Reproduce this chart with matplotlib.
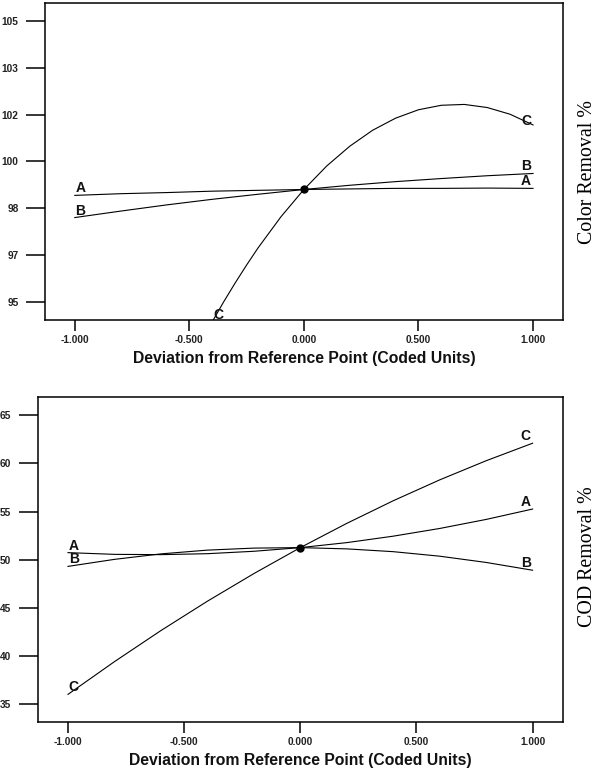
# -*- coding: utf-8 -*-
"""
Perturbation plots for the colour / COD removal models.
Deviation from the reference point (coded units) for factors A, B, C.
"""

import numpy as np
from matplotlib import pyplot as plt


# ---- data ----
# top panel: colour removal %
x_top = [-1.0, -0.8, -0.6, -0.4, -0.2, 0.0, 0.2, 0.4, 0.6, 0.8, 1.0]
color_A = [98.79, 98.85, 98.89, 98.94, 98.97, 99.00, 99.02, 99.04, 99.04, 99.05, 99.04]
color_B = [98.00, 98.23, 98.45, 98.65, 98.83, 99.00, 99.15, 99.28, 99.39, 99.49, 99.57]

x_top_C = [-0.40, -0.35, -0.30, -0.25, -0.20, -0.10, 0.00, 0.10, 0.20, 0.30,
           0.40, 0.50, 0.60, 0.70, 0.80, 0.90, 1.00]
color_C = [94.29, 95.00, 95.67, 96.31, 96.92, 98.03, 99.00, 99.84, 100.54, 101.11,
           101.54, 101.84, 102.00, 102.03, 101.92, 101.68, 101.30]

# bottom panel: COD removal %
x_bot = [-1.0, -0.8, -0.6, -0.4, -0.2, 0.0, 0.2, 0.4, 0.6, 0.8, 1.0]
cod_A = [50.73, 50.55, 50.52, 50.62, 50.87, 51.25, 51.77, 52.44, 53.24, 54.18, 55.26]
cod_B = [49.30, 50.03, 50.60, 50.99, 51.20, 51.25, 51.12, 50.83, 50.36, 49.71, 48.90]
cod_C = [36.00, 39.40, 42.63, 45.68, 48.55, 51.25, 53.77, 56.12, 58.29, 60.28, 62.10]

ref_color = 99.0
ref_cod = 51.25

x_ticks = [-1.0, -0.5, 0.0, 0.5, 1.0]
x_ticklabels = ['-1.000', '-0.500', '0.000', '0.500', '1.000']

# the colour axis has 7 even ticks between 95 and 105 (labels rounded)
top_yticks = np.linspace(95, 105, 7)
top_yticklabels = ['95', '97', '98', '100', '102', '103', '105']
bot_yticks = [35, 40, 45, 50, 55, 60, 65]
bot_yticklabels = ['35', '40', '45', '50', '55', '60', '65']

SANS = 'Liberation Sans'
SERIF = 'Liberation Serif'


def put_label(ax, x, y, txt, dx=0.0):
    # letter sitting right on the end of a curve
    ax.text(x + dx, y, txt, ha='center', va='bottom', fontsize=10,
            family=SANS, fontweight='bold', color='#111111', zorder=5)


def style_axes(ax, yticks, yticklabels, ylim):
    ax.set_xlim(-1.13, 1.13)
    ax.set_ylim(*ylim)
    ax.set_xticks(x_ticks)
    ax.set_xticklabels(x_ticklabels)
    ax.set_yticks(yticks)
    ax.set_yticklabels(yticklabels)
    for lab in ax.get_xticklabels() + ax.get_yticklabels():
        lab.set_family(SANS)
        lab.set_fontweight('bold')
        lab.set_fontsize(7.3)
        lab.set_color('#222222')
    ax.tick_params(axis='y', direction='out', length=14, width=1.1, pad=5)
    ax.tick_params(axis='x', direction='out', length=8, width=1.1, pad=3)
    for sp in ax.spines.values():
        sp.set_linewidth(1.1)
    ax.set_xlabel('Deviation from Reference Point (Coded Units)', family=SANS,
                  fontsize=11.3, fontweight='bold', labelpad=4, color='#111111')


fig = plt.figure(figsize=(6.0, 7.73), dpi=100)

# ---- top panel ----
ax1 = fig.add_axes([0.075, 0.586, 0.863, 0.410])
kw = dict(color='black', lw=0.8)
ax1.plot(x_top, color_A, **kw)
ax1.plot(x_top, color_B, **kw)
ax1.plot(x_top_C, color_C, **kw)
ax1.plot([0], [ref_color], 'o', color='black', ms=5)
style_axes(ax1, top_yticks, top_yticklabels, (94.35, 105.64))

put_label(ax1, x_top[0], color_A[0], 'A', dx=0.025)
put_label(ax1, x_top[0], color_B[0], 'B', dx=0.025)
put_label(ax1, x_top[-1], color_A[-1], 'A', dx=-0.03)
put_label(ax1, x_top[-1], color_B[-1], 'B', dx=-0.03)
put_label(ax1, x_top_C[-1], color_C[-1] - 0.1, 'C', dx=-0.03)
put_label(ax1, x_top_C[0], color_C[0], 'C', dx=0.025)

fig.text(0.98, 1 - 172 / 773, 'Color Removal %', rotation=90, ha='center',
         va='center', family=SERIF, fontsize=14.3)

# ---- bottom panel ----
ax2 = fig.add_axes([0.063, 0.066, 0.875, 0.420])
ax2.plot(x_bot, cod_A, **kw)
ax2.plot(x_bot, cod_B, **kw)
ax2.plot(x_bot, cod_C, **kw)
ax2.plot([0], [ref_cod], 'o', color='black', ms=5)
style_axes(ax2, bot_yticks, bot_yticklabels, (33.13, 66.87))

put_label(ax2, x_bot[0], cod_A[0], 'A', dx=0.025)
put_label(ax2, x_bot[0], cod_B[0], 'B', dx=0.025)
put_label(ax2, x_bot[0], cod_C[0], 'C', dx=0.025)
put_label(ax2, x_bot[-1], cod_A[-1], 'A', dx=-0.03)
put_label(ax2, x_bot[-1], cod_B[-1], 'B', dx=-0.03)
put_label(ax2, x_bot[-1], cod_C[-1], 'C', dx=-0.03)

fig.text(0.98, 1 - 557 / 773, 'COD Removal %', rotation=90, ha='center',
         va='center', family=SERIF, fontsize=14.3)

fig.savefig('out.png', dpi=100)
